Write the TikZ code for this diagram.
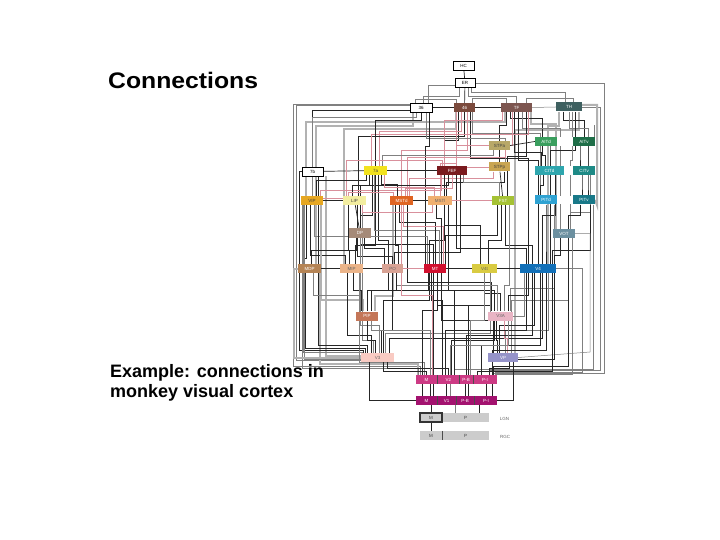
\documentclass[tikz,border=0pt]{standalone}
\usepackage{fontspec}
\setmainfont{Liberation Sans}
\setsansfont{Liberation Sans}
\usetikzlibrary{calc}
\pgfdeclarelayer{bg}
\pgfdeclarelayer{wires}
\pgfsetlayers{bg,wires,main}
\definecolor{pnkw}{HTML}{D9909C}
\tikzset{
  area/.style={inner sep=0pt, minimum height=9pt, font=\fontsize{4.5}{5}\selectfont, text=white},
  dk/.style={text=black!75},
  md/.style={text=black!60},
  outl/.style={area, draw=black, line width=0.5pt, fill=white, text=black},
  blk/.style={black!85, line width=0.7pt},
  gry/.style={black!30, line width=2pt},
  lgr/.style={black!50, line width=0.5pt},
  pnk/.style={pnkw, line width=0.5pt},
  sep/.style={black!70, line width=0.8pt}
}
\newcommand\wv[6][blk]{%
  \path (#2) ++(#3pt,0) coordinate (ws);
  \path (#4) ++(#5pt,0) coordinate (we);
  \draw[#1] (ws) -- (ws |- 0,#6) -| (we);}
\begin{document}
\begin{tikzpicture}[x=1pt,y=-1pt]
\begin{pgfonlayer}{bg}
\fill[white] (0,0) rectangle (720,540);
\end{pgfonlayer}
\useasboundingbox (0,0) rectangle (720,540);

% titles
\node[anchor=base west, inner sep=0pt, font=\fontsize{22.5}{24}\selectfont\bfseries] (title) at (108,89) {\scalebox{1.1}[1]{Connections}};
\node[anchor=base west, inner sep=0pt, align=left, font=\fontsize{18}{19.5}\selectfont\bfseries] (sub) at (110,397) {Example: connections in\\monkey visual cortex};

% white gaps between paired areas
\fill[white] (557,137) rectangle (573,146);
\fill[white] (564,166) rectangle (573,175);
\fill[white] (557,196) rectangle (573,204);

% areas
\node[outl, minimum width=21pt] (HC) at (463.5,65.5) {HC};
\node[outl, minimum width=20pt] (ER) at (465,83) {ER};
\node[outl, minimum width=22pt] (a36) at (421,107.5) {36};
\node[area, minimum width=21pt, fill={rgb,255:red,123;green,74;blue,60}] (a46) at (464.5,107.5) {46};
\node[area, minimum width=31pt, fill={rgb,255:red,125;green,86;blue,80}] (TF) at (516.5,107.5) {TF};
\node[area, minimum width=26pt, fill={rgb,255:red,62;green,96;blue,96}] (TH) at (569,107) {TH};
\node[area, dk, minimum width=21pt, fill={rgb,255:red,184;green,168;blue,104}] (STPa) at (499.5,145.5) {STPa};
\node[area, minimum width=22pt, fill={rgb,255:red,58;green,158;blue,94}] (AITd) at (546,141.5) {AITd};
\node[area, minimum width=22pt, fill={rgb,255:red,31;green,110;blue,72}] (AITv) at (584,141.5) {AITv};
\node[outl, minimum width=21pt] (b7) at (312.5,171.5) {7b};
\node[area, dk, minimum width=23pt, fill={rgb,255:red,242;green,226;blue,30}] (a7) at (375.5,170.5) {7a};
\node[area, minimum width=30pt, fill={rgb,255:red,122;green,26;blue,30}] (FEF) at (452,170.5) {FEF};
\node[area, dk, minimum width=21pt, fill={rgb,255:red,201;green,165;blue,82}] (STPp) at (499.5,167) {STPp};
\node[area, minimum width=29pt, fill={rgb,255:red,46;green,166;blue,174}] (CITd) at (549.5,170.5) {CITd};
\node[area, minimum width=22pt, fill={rgb,255:red,30;green,138;blue,134}] (CITv) at (584,170.5) {CITv};
\node[area, dk, minimum width=22pt, fill={rgb,255:red,230;green,167;blue,34}] (VIP) at (312,200.5) {VIP};
\node[area, dk, minimum width=23pt, fill={rgb,255:red,242;green,237;blue,160}] (LIP) at (354.5,200.5) {LIP};
\node[area, minimum width=23pt, fill={rgb,255:red,223;green,100;blue,34}] (MSTd) at (401.5,200.5) {MSTd};
\node[area, md, minimum width=24pt, fill={rgb,255:red,240;green,176;blue,112}] (MSTl) at (440,200.5) {MSTl};
\node[area, minimum width=22pt, fill={rgb,255:red,165;green,194;blue,52}] (FST) at (503,200.5) {FST};
\node[area, minimum width=22pt, fill={rgb,255:red,46;green,162;blue,210}] (PITd) at (546,200) {PITd};
\node[area, minimum width=22pt, fill={rgb,255:red,24;green,120;blue,136}] (PITv) at (584,200) {PITv};
\node[area, minimum width=22pt, fill={rgb,255:red,165;green,138;blue,120}] (DP) at (360,233) {DP};
\node[area, minimum width=22pt, fill={rgb,255:red,108;green,144;blue,160}] (VOT) at (564,233.5) {VOT};
\node[area, minimum width=23pt, fill={rgb,255:red,181;green,132;blue,85}] (MDP) at (309.5,268.5) {MDP};
\node[area, md, minimum width=23pt, fill={rgb,255:red,235;green,180;blue,137}] (MIP) at (351.5,268.5) {MIP};
\node[area, md, minimum width=21pt, fill={rgb,255:red,216;green,162;blue,148}] (PO) at (392.5,268.5) {PO};
\node[area, minimum width=22pt, fill={rgb,255:red,210;green,16;blue,46}] (MT) at (435,268.5) {MT};
\node[area, md, minimum width=25pt, fill={rgb,255:red,217;green,203;blue,66}] (V4t) at (484.5,268.5) {V4t};
\node[area, minimum width=36pt, fill={rgb,255:red,18;green,112;blue,184}] (V4) at (538,268.5) {V4};
\node[area, minimum width=22pt, fill={rgb,255:red,196;green,118;blue,88}] (PIP) at (367,316) {PIP};
\node[area, md, minimum width=25pt, fill={rgb,255:red,233;green,180;blue,196}] (V3A) at (500.5,316) {V3A};
\node[area, md, minimum width=33pt, fill={rgb,255:red,249;green,203;blue,195}] (V3) at (377.5,357.5) {V3};
\node[area, minimum width=30pt, fill={rgb,255:red,149;green,147;blue,201}] (VP) at (503,357.5) {VP};
% V2 row
\node[area, minimum width=21pt, fill={rgb,255:red,204;green,58;blue,132}] (M2) at (426.5,379.5) {M};
\node[area, minimum width=21.5pt, fill={rgb,255:red,204;green,58;blue,132}] (V2) at (448.25,379.5) {V2};
\node[area, minimum width=14pt, fill={rgb,255:red,204;green,58;blue,132}] (PB2) at (466,379.5) {P-B};
\node[area, minimum width=24pt, fill={rgb,255:red,204;green,58;blue,132}] (PI2) at (485,379.5) {P-I};
% V1 row
\node[area, minimum width=21pt, fill={rgb,255:red,163;green,18;blue,111}] (M1) at (426.5,400.5) {M};
\node[area, minimum width=19pt, fill={rgb,255:red,163;green,18;blue,111}] (V1) at (446.5,400.5) {V1};
\node[area, minimum width=18pt, fill={rgb,255:red,163;green,18;blue,111}] (PB1) at (465,400.5) {P-B};
\node[area, minimum width=22pt, fill={rgb,255:red,163;green,18;blue,111}] (PI1) at (486,400.5) {P-I};
% LGN, RGC
\node[area, dk, minimum width=47pt, fill=black!20] (LP) at (465.5,417.5) {P};
\node[area, dk, minimum width=22pt, fill=black!20, draw=black!80, line width=1.1pt] (LM) at (431,417.5) {M};
\node[area, dk, minimum width=22pt, fill=black!20] (RM) at (431,435.5) {M};
\node[area, dk, minimum width=47pt, fill=black!20] (RP) at (465.5,435.5) {P};
\node[inner sep=0pt, font=\fontsize{4.5}{5}\selectfont, text=black!60] (lgn) at (504.5,418.5) {LGN};
\node[inner sep=0pt, font=\fontsize{4.5}{5}\selectfont, text=black!60] (rgc) at (505,437) {RGC};
% separators in rows
\foreach \a in {M2,V2,PB2,M1,V1,PB1}{\draw[sep] (\a.north east) -- (\a.south east);}
\draw[sep] (RM.north east) -- (RM.south east);

\begin{pgfonlayer}{wires}
% ---- top
\draw[blk] (HC) -- (ER);
\draw[blk] (ER) -- (a46);
\wv[lgr]{ER.south}{-6}{a36.north}{2}{96}
\wv[lgr]{ER.south}{6}{TH.north}{-4}{92}
\wv[lgr]{ER.south}{3}{TF.north}{0}{96}
\draw[lgr] (ER.east) -| (604,373) -| ([xshift=8]PI2.north);
\draw[lgr] ([yshift=-2]ER.west) -| (428,103);
\draw[blk] (a36) -- (a46);
\draw[blk] (a46) -- (TF);
\draw[lgr] (TF.east) -- (TH.west);
\wv[lgr]{a36.north}{-6}{a46.north}{-8}{99}
\wv[lgr]{a46.north}{8}{TF.north}{-10}{98}
\wv[lgr]{TF.north}{10}{TH.north}{4}{98}
\draw[blk] ([yshift=-3]a36.west) -| (b7.north);
\draw[lgr] ([yshift=2]a36.west) -| (296,360) -| ([xshift=-12]V3.north);
\draw[lgr] ([yshift=3]a36.west) -| (293,366) -| ([xshift=-6]M2.north);
\draw[lgr] (TH.east) -| (600,370) -| ([xshift=4]PI2.north);
\draw[gry] ([yshift=2]TH.east) -| (597,205) -- (PITv.east);
\draw[lgr] (AITv.east) -| (594,125);
% thick gray bands
\wv[gry]{TF.south}{-12}{VIP.north}{-6}{122}
\wv[gry]{a36.south}{-8}{MDP.north}{6}{126}
\wv[gry]{TH.south}{-10}{V4.north}{10}{126}
\wv[gry]{a46.south}{-9}{MIP.north}{-8}{129}
\wv[gry]{TF.south}{14}{VOT.north}{-8}{124}
\wv[gry]{TH.south}{10}{VP.north}{12}{130}
\draw[gry] ([xshift=13]b7.south) |- ([yshift=2]V3.west);
\wv[gry]{MDP.south}{10}{M2.north}{-9}{364}
\wv[gry]{MSTd.south}{-9}{PIP.north}{8}{296}
% from 46
\wv[blk]{a46.south}{-6}{FEF.north}{-8}{140}
\wv[pnk]{a46.south}{-3}{a7.north}{4}{131}
\wv[blk]{a46.south}{0}{LIP.north}{4}{136}
\wv[pnk]{a46.south}{3}{MSTd.north}{0}{150}
\wv[blk]{a46.south}{6}{V4.north}{-10}{158}
\wv[lgr]{a46.south}{8}{PITd.north}{-6}{133}
\wv[pnk]{a46.south}{-8}{MSTl.north}{0}{163}
% from TF
\wv[blk]{TF.south}{-10}{STPa.north}{0}{125}
\wv[blk]{TF.south}{-6}{AITd.north}{-4}{118}
\wv[blk]{TF.south}{-2}{CITd.north}{-8}{152}
\wv[blk]{TF.south}{2}{V4.north}{0}{160}
\wv[lgr]{TF.south}{6}{VOT.north}{-4}{128}
\wv[blk]{TF.south}{10}{FST.north}{4}{156}
\wv[pnk]{TF.south}{12}{a7.north}{-4}{134}
\wv[pnk]{TF.south}{-14}{MSTl.north}{4}{120}
\wv[pnk]{TF.south}{-4}{FEF.north}{4}{145}
% from TH
\wv[blk]{TH.south}{-6}{AITv.north}{0}{120}
\wv[lgr]{TH.south}{0}{CITv.north}{4}{128}
\wv[blk]{TH.south}{6}{V4.north}{12}{150}
\wv[lgr]{TH.south}{3}{VOT.north}{6}{160}
% from 36
\wv[blk]{a36.south}{0}{a7.north}{0}{120}
\wv[lgr]{a36.south}{-5}{VIP.north}{0}{117}
\wv[lgr]{a36.south}{5}{STPp.north}{6}{138}
\wv[blk]{a36.south}{8}{MT.north}{-10}{146}
% STP, IT
\draw[blk] (STPa.east) -- (AITd.west);
\draw[blk] (STPa) -- (STPp);
\draw[blk] (STPp) -- (FST);
\wv[blk]{STPp.south}{5}{MSTl.north}{6}{182}
\wv[pnk]{STPp.south}{-6}{MSTd.north}{8}{178}
\draw[pnk] (STPp.west) -| ([xshift=10]FEF.north);
\wv[lgr]{STPa.south}{-6}{a7.north}{7}{155}
\wv[pnk]{STPa.south}{6}{MSTd.north}{6}{157}
\wv[blk]{AITd.south}{-4}{CITd.north}{-4}{155}
\wv[blk]{AITd.south}{4}{PITd.north}{4}{186}
\wv[blk]{AITv.south}{-4}{CITv.north}{-4}{155}
\wv[blk]{AITv.south}{4}{PITv.north}{4}{186}
\wv[blk]{CITd.south}{-6}{PITd.north}{-6}{185}
\wv[blk]{CITd.south}{6}{V4.north}{4}{215}
\wv[blk]{CITv.south}{-2}{PITv.north}{-2}{185}
\wv[lgr]{CITv.south}{6}{VOT.north}{6}{212}
\wv[blk]{PITd.south}{0}{V4.north}{8}{240}
\wv[lgr]{PITd.south}{8}{V3A.north}{10}{288}
\wv[blk]{PITv.south}{-4}{VOT.north}{4}{215}
\wv[blk]{PITv.south}{6}{V4.north}{14}{250}
\wv[blk]{VOT.south}{-4}{V4.north}{16}{255}
\wv[lgr]{VOT.south}{4}{VP.north}{8}{300}
\wv[lgr]{VOT.south}{8}{PI2.north}{10}{374}
\draw[lgr] (VOT.east) -| (590,352) -- (VP.east);
\wv[lgr]{PITv.south}{9}{V2.north}{6}{369}
% FEF
\draw[blk] (a7.east) -- (FEF.west);
\draw[blk] (b7) -- (a7);
\wv[blk]{FEF.south}{-8}{MT.north}{-6}{240}
\wv[blk]{FEF.south}{-4}{LIP.north}{6}{185}
\wv[pnk]{FEF.south}{0}{MSTd.north}{4}{188}
\wv[blk]{FEF.south}{4}{V4.north}{-12}{248}
\wv[blk]{FEF.south}{8}{PO.north}{2}{252}
\wv[lgr]{FEF.south}{11}{FST.north}{-4}{182}
\wv[pnk]{FEF.south}{-11}{VIP.north}{8}{190}
\wv[pnk]{FEF.north}{-10}{LIP.north}{-8}{160}
% 7a
\wv[blk]{a7.south}{-6}{LIP.north}{-2}{185}
\wv[blk]{a7.south}{-3}{DP.north}{0}{215}
\wv[blk]{a7.south}{0}{MIP.north}{4}{245}
\wv[blk]{a7.south}{3}{PO.north}{-4}{240}
\wv[blk]{a7.south}{6}{MSTd.north}{-4}{184}
\wv[pnk]{a7.south}{9}{MSTl.north}{-6}{187}
\wv[blk]{a7.south}{-9}{VIP.north}{4}{180}
\wv[lgr]{a7.south}{-1}{MT.north}{4}{230}
\draw[blk] (b7.west) -| (299,350) -| ([xshift=-14]V3.north);
\wv[blk]{b7.south}{6}{VIP.north}{6}{183}
% VIP, LIP
\draw[blk] (VIP) -- (LIP);
\draw[pnk] ([yshift=2]VIP.east) -- ([yshift=2]LIP.west);
\wv[blk]{VIP.south}{-6}{MDP.north}{-6}{258}
\wv[blk]{VIP.south}{-2}{MIP.north}{-6}{255}
\wv[lgr]{VIP.south}{2}{MT.north}{-8}{236}
\wv[blk]{VIP.south}{6}{V3.north}{-10}{345}
\wv[gry]{VIP.south}{9}{PIP.north}{-4}{300}
\draw[lgr] ([xshift=-8]VIP.south) |- ([yshift=-2]V3.west);
\wv[lgr]{VIP.south}{-9}{V3.north}{-15}{352}
\draw[lgr] (VIP.west) -| (302,368) -| ([xshift=-8]M2.north);
\draw[gry] (MDP.west) -- ++(-4,0) |- (V3.west);
\wv[blk]{LIP.south}{-6}{MDP.north}{2}{250}
\draw[blk] (LIP) -- (DP);
\wv[blk]{LIP.south}{3}{PO.north}{0}{256}
\wv[blk]{LIP.south}{6}{MT.north}{-2}{244}
\wv[lgr]{LIP.south}{8}{V3.north}{-4}{340}
\wv[pnk]{LIP.north}{-6}{MSTd.north}{-8}{192}
% MST
\draw[blk] (MSTd) -- (MSTl);
\wv[blk]{MSTd.south}{-6}{PO.north}{6}{245}
\wv[blk]{MSTd.south}{-2}{MT.north}{0}{222}
\wv[pnk]{MSTd.south}{2}{MT.north}{8}{226}
\wv[blk]{MSTd.south}{6}{V3A.north}{-9}{282}
\wv[blk]{MSTl.south}{-4}{MT.north}{6}{218}
\wv[blk]{MSTl.south}{4}{V4t.north}{-4}{225}
\wv[blk]{MSTl.south}{8}{V3A.north}{-6}{290}
\draw[pnk] (MSTl.east) -- (FST.west);
\wv[pnk]{MSTl.south}{-8}{LIP.south}{8}{212}
% FST
\wv[blk]{FST.south}{-6}{MT.north}{10}{235}
\wv[blk]{FST.south}{-2}{V4t.north}{4}{240}
\wv[blk]{FST.south}{2}{V4.north}{-6}{245}
\wv[lgr]{FST.south}{6}{V3A.north}{4}{285}
% DP
\wv[blk]{DP.south}{-4}{MIP.north}{-2}{250}
\wv[blk]{DP.south}{4}{PO.north}{-8}{248}
\wv[lgr]{DP.south}{0}{V3.north}{2}{325}
% middle row
\draw[blk] (MDP) -- (MIP);
\draw[blk] (MIP) -- (PO);
\draw[pnk] (PO.east) -- (MT.west);
\draw[blk] (MT.east) -- (V4t.west);
\draw[blk] (V4t.east) -- (V4.west);
\wv[blk]{MT.south}{-6}{V3.north}{6}{300}
\wv[blk]{MT.south}{-2}{PIP.north}{4}{290}
\wv[blk]{MT.south}{2}{V3A.north}{-10}{305}
\wv[blk]{MT.south}{6}{VP.north}{-10}{320}
\wv[blk]{V4.south}{-10}{V3A.north}{8}{295}
\wv[blk]{V4.south}{-4}{VP.north}{-4}{325}
\wv[blk]{V4.south}{4}{V3.north}{12}{338}
\wv[lgr]{V4.south}{10}{VP.north}{2}{330}
\wv[blk]{V4.south}{14}{PI2.north}{-8}{371}
\draw[blk] ([xshift=16]V4.south) |- ([yshift=-2]VP.east);
\draw[lgr] ([xshift=-14]V4.south) |- (V3A.east);
\draw[lgr] (V4.east) -| (582,372) -| ([xshift=10]PI2.north);
\wv[blk]{V4t.south}{0}{V3A.north}{0}{293}
\wv[lgr]{V4t.south}{6}{V3.north}{8}{333}
\wv[blk]{PO.south}{-4}{PIP.north}{0}{290}
\wv[blk]{PO.south}{0}{V3.north}{4}{330}
\wv[lgr]{PO.south}{4}{V3A.north}{-3}{285}
\wv[blk]{MIP.south}{-4}{V3.north}{-6}{335}
\wv[blk]{MIP.south}{2}{PIP.north}{-6}{290}
\wv[lgr]{MIP.south}{8}{M2.north}{-2}{362}
\wv[blk]{MDP.south}{-4}{V3.north}{-12}{348}
\wv[lgr]{MDP.south}{4}{PIP.north}{-8}{295}
\wv[blk]{PIP.south}{0}{V3.north}{-2}{340}
\wv[blk]{V3A.south}{-4}{VP.north}{-6}{340}
\wv[pnk]{V3A.south}{4}{VP.north}{4}{338}
% V2 and V1
\wv[blk]{V2.north}{-6}{MT.south}{-4}{300}
\wv[blk]{V2.north}{-3}{V4.south}{-12}{330}
\wv[blk]{V2.north}{0}{V3.south}{10}{368}
\wv[blk]{V2.north}{3}{V3A.south}{-6}{340}
\wv[blk]{V2.north}{6}{PO.south}{4}{290}
\wv[blk]{PB2.north}{0}{V4.south}{-6}{335}
\wv[blk]{PI2.north}{-4}{V4.south}{2}{345}
\wv[blk]{PI2.north}{4}{VP.south}{6}{368}
\wv[blk]{M2.north}{-4}{MT.south}{2}{310}
\wv[blk]{M2.north}{0}{V3.south}{6}{371}
\wv[lgr]{M2.north}{4}{PIP.south}{4}{330}
\wv[pnk]{M2.north}{6}{MSTd.south}{0}{295}
\wv[lgr]{PB2.north}{4}{V4t.south}{0}{320}
\wv[blk]{PI2.north}{8}{VOT.south}{4}{366}
\draw[blk] (M1.west) -| ([xshift=-8]V3.south);
\draw[blk] ([xshift=-4]M1.north) -- ([xshift=-4]M2.south);
\draw[blk] ([xshift=4]M1.north) -- ([xshift=4]M2.south);
\draw[blk] (V1.north) -- (V1.north |- V2.south);
\draw[blk] (PB1.north) -- (PB1.north |- PB2.south);
\draw[blk] (PI1.north) -- (PI1.north |- PI2.south);
\wv[blk]{PB1.north}{3}{MT.south}{6}{305}
\wv[blk]{M1.north}{7}{MT.south}{-7}{290}
\wv[blk]{PI1.north}{6}{V4.south}{8}{350}
\draw[blk] (PI1.east) -| ([xshift=10]VP.south);
\wv[lgr]{V1.north}{4}{V3A.south}{8}{345}
\draw[blk] (LM.north) -- (LM.north |- M1.south);
\draw[blk] (RM.north) -- (LM.south);
\draw[blk] ([xshift=14]LP.north) -- ([xshift=14]LP.north |- PI1.south);
\draw[lgr] ([xshift=-10]LP.north) -- ([xshift=-10]LP.north |- PB1.south);
\end{pgfonlayer}
\end{tikzpicture}
\end{document}
